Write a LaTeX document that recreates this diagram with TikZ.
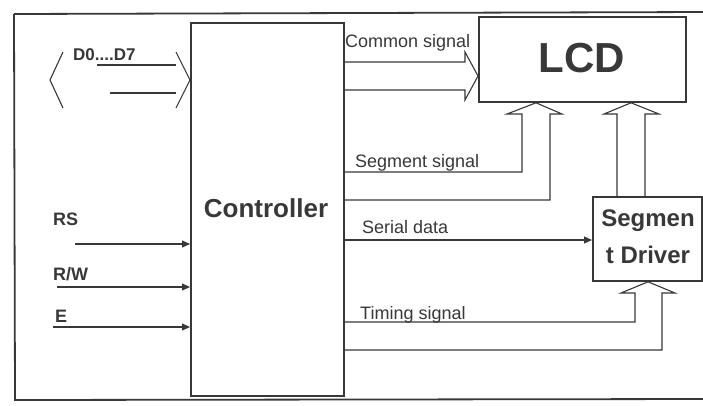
\documentclass[tikz,border=0pt]{standalone}
\usepackage{fontspec}
\setmainfont{Liberation Sans}
\usetikzlibrary{arrows.meta}
\definecolor{ink}{gray}{0.22}
\definecolor{txt}{gray}{0.22}
\begin{document}
\begin{tikzpicture}[x=1pt,y=-1pt,line join=miter,
  wire/.style={draw=ink,line width=1.1pt},
  frame/.style={draw=ink,line width=1.8pt},
  blk/.style={draw=ink,line width=1.8pt,inner sep=0pt,anchor=north west,text=txt},
  lbl/.style={anchor=base west,inner sep=0pt,text=txt,font=\fontsize{18}{18}\selectfont},
  blbl/.style={lbl,font=\fontsize{18}{18}\selectfont\bfseries},
  tip/.style={-{Triangle[length=8pt,width=7pt]}}]
\useasboundingbox (0,0) rectangle (703,405);
\fill[white] (0,0) rectangle (703,405);
% outer frame
\draw[frame] (14,14) -- (708,12);
\draw[frame] (14,14) -- (15,400) -- (708,399);
% blocks
\node[blk,minimum width=153pt,minimum height=373pt] (ctrl) at (190,22) {};
\node[text=txt,font=\fontsize{26}{26}\selectfont\bfseries] at (266,208) {Controller};
\node[blk,minimum width=207pt,minimum height=85pt] (lcd) at (478,16) {};
\node[text=txt,font=\fontsize{42}{42}\selectfont\bfseries] at (582,58) {LCD};
\node[blk,minimum width=109pt,minimum height=84pt] (seg) at (592,196) {};
\node[text=txt,align=center,font=\fontsize{24}{37}\selectfont\bfseries] at (648,237) {Segmen\\t Driver};
% D0..D7 bus
\coordinate (busL) at (50,80);
\draw[wire] (63,52) -- (busL) -- (63,108);
\draw[wire] (176,52) -- (ctrl.west |- busL) -- (176,108);
\draw[wire] (97,65) -- (176,65);
\draw[wire] (110,93) -- (176,93);
\node[blbl,font=\fontsize{17}{17}\selectfont\bfseries] (dlab) at (73,60) {D0....D7};
% control inputs
\node[blbl] (rs) at (53,225) {RS};
\node[blbl] (rw) at (53,280) {R/W};
\node[blbl] (en) at (55,322) {E};
\coordinate (rsS) at (75,244);
\coordinate (rwS) at (57,287);
\coordinate (enS) at (53,327);
\draw[wire,tip] (rsS) -- (ctrl.west |- rsS);
\draw[wire,tip] (rwS) -- (ctrl.west |- rwS);
\draw[wire,tip] (enS) -- (ctrl.west |- enS);
% common signal
\node[lbl] (com) at (345,47) {Common signal};
\draw[wire] (ctrl.east |- 0,62) -- (465,62) -- (465,52) -- (lcd.west |- 0,76) -- (465,100) -- (465,90) -- (ctrl.east |- 0,90);
% segment signal
\node[lbl] (segl) at (355,167) {Segment signal};
\draw[wire] (ctrl.east |- 0,172) -- (522,172) -- (522,114) -- (507,114) -- (lcd.south -| 536,0) -- (562,114) -- (550,114) -- (550,200) -- (ctrl.east |- 0,200);
% segment driver to LCD
\draw[wire] (seg.north -| 617,0) -- (617,114) -- (604,114) -- (lcd.south -| 631,0) -- (659,114) -- (645,114) -- (seg.north -| 645,0);
% serial data
\node[lbl] (ser) at (362,233) {Serial data};
\draw[wire,tip] (ctrl.east |- 0,240) -- (seg.west |- 0,240);
% timing signal
\node[lbl] (tim) at (360,319) {Timing signal};
\draw[wire] (ctrl.east |- 0,322) -- (635,322) -- (635,293) -- (621,293) -- (seg.south -| 648,0) -- (675,293) -- (662,293) -- (662,350) -- (ctrl.east |- 0,350);
\end{tikzpicture}
\end{document}
